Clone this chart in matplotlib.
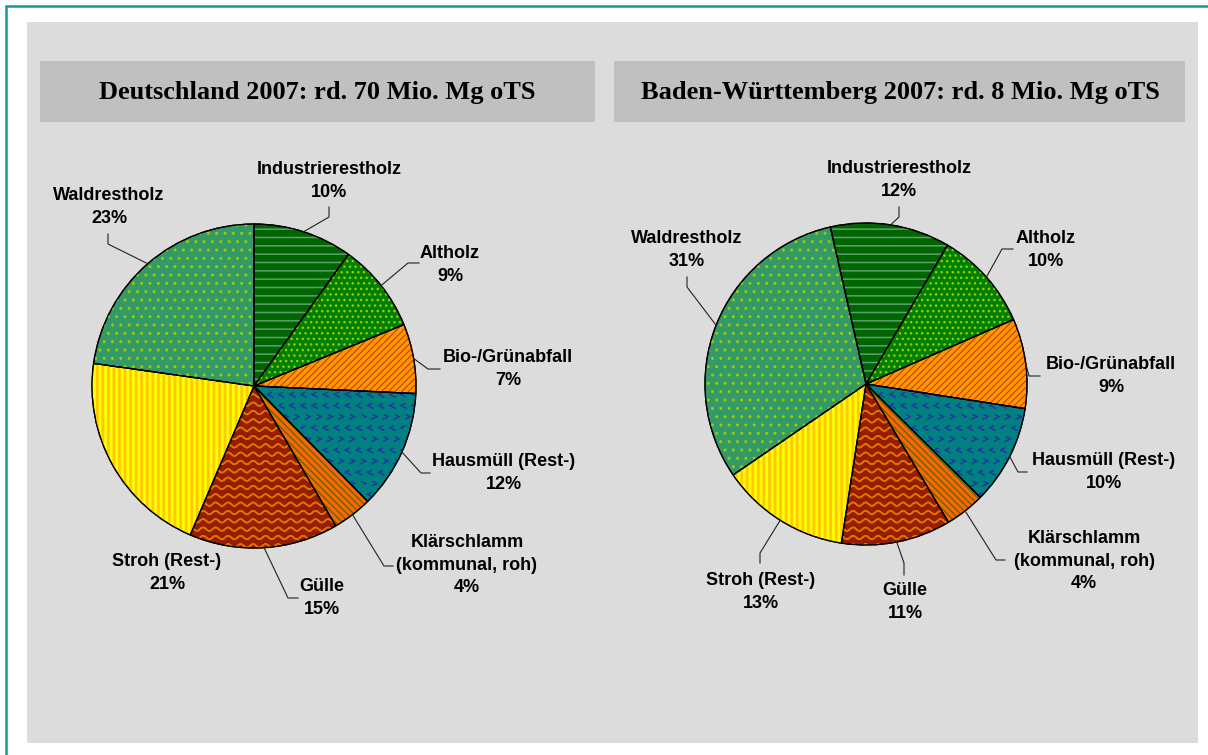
import warnings
warnings.filterwarnings("ignore")
import numpy as np
import matplotlib
matplotlib.use("Agg")
import matplotlib.pyplot as plt
from matplotlib import hatch as mhatch
from matplotlib.path import Path
from matplotlib.patches import Rectangle, Wedge

# ---------------- data ----------------
categories = ["Industrierestholz", "Altholz", "Bio-/Grünabfall", "Hausmüll (Rest-)",
              "Klärschlamm\n(kommunal, roh)", "Gülle", "Stroh (Rest-)", "Waldrestholz"]
de_shares = [10, 9, 7, 12, 4, 15, 21, 23]
bw_shares = [12, 10, 9, 10, 4, 11, 13, 31]
titles = ["Deutschland 2007: rd. 70 Mio. Mg oTS",
          "Baden-Württemberg 2007: rd. 8 Mio. Mg oTS"]

# ---------------- styles ----------------
face_colors = ["#006600", "#008000", "#FF9900", "#008080",
               "#FF6600", "#961E00", "#FFFF00", "#339966"]
hatch_colors = ["#5E9E70", "#99CC00", "#C83C00", "#1F3C99",
                "#5A6A00", "#E07000", "#FFC800", "#99CC00"]
hatches = ["--", "...", "/////", "<", "\\\\\\\\\\", "~~", "|||", ".."]
hatch_lws = [1.1, 1.0, 0.8, 0.8, 1.0, 1.1, 2.0, 1.0]


# ---------------- custom hatch patterns ----------------
class WaveHatch(mhatch.HatchPatternBase):
    pts = 81

    def __init__(self, hatch, density):
        self.num_lines = int(hatch.count('~') * density)
        self.num_vertices = self.num_lines * self.pts * 2

    def set_vertices_and_codes(self, vertices, codes):
        x = np.linspace(0, 1, self.pts)
        n = self.num_lines
        for i in range(n):
            y0 = (i + 0.5) / n
            y = y0 + 0.018 * np.sin(2 * np.pi * 8 * x)
            xs = np.concatenate([x, x[::-1]])
            ys = np.concatenate([y, y[::-1]])
            s = slice(i * self.pts * 2, (i + 1) * self.pts * 2)
            vertices[s, 0] = xs
            vertices[s, 1] = ys
            codes[s] = Path.LINETO
            codes[i * self.pts * 2] = Path.MOVETO


class ChevronHatch(mhatch.HatchPatternBase):
    def __init__(self, hatch, density):
        self.n = int(hatch.count('<') * density * 3 // 2)
        self.num_vertices = self.n * self.n * 5

    def set_vertices_and_codes(self, vertices, codes):
        n = self.n
        d = 1.0 / n
        s = 0.17 * d
        k = 0
        for r in range(n):
            cy = (r + 0.5) * d
            for c in range(n):
                cx = (c + (0.25 if r % 2 == 0 else 0.75)) * d
                sgn = 1 if r % 2 == 0 else -1
                pts = [(cx + sgn * s, cy + s), (cx - sgn * s, cy), (cx + sgn * s, cy - s),
                       (cx - sgn * s, cy), (cx + sgn * s, cy + s)]
                vertices[k:k + 5] = pts
                codes[k] = Path.MOVETO
                codes[k + 1:k + 5] = Path.LINETO
                k += 5


mhatch._hatch_types.append(WaveHatch)
mhatch._hatch_types.append(ChevronHatch)

# ---------------- layout ----------------
W, H = 1208, 755
pie_layout = [
    dict(center=(254, 386), radius=162, start=-90),
    dict(center=(866, 384), radius=161, start=-102.8),
]
# label centre (x, y), leader elbow (x, y), leader end (x, y) in pixels
label_layout = [
    [((329, 181), (329, 217), (329, 207)),
     ((450, 265), (408, 263), (419, 263)),
     ((508, 369), (428, 369), (440, 369)),
     ((504, 473), (421, 473), (430, 473)),
     ((467, 565), (384, 566), (393, 566)),
     ((322, 598), (288, 598), (298, 598)),
     ((167, 573), None, None),
     ((109, 207), (108, 244), (108, 234))],
    [((899, 180), (899, 217), (899, 207)),
     ((1046, 250), (1002, 249), (1013, 249)),
     ((1111, 376), (1029, 376), (1040, 376)),
     ((1104, 472), (1018, 472), (1027, 472)),
     ((1084, 561), (996, 560), (1005, 560)),
     ((905, 602), (904, 563), (904, 575)),
     ((761, 592), (760, 553), (760, 563)),
     ((687, 250), (687, 287), (687, 277))],
]
title_boxes = [(40, 61, 555, 61), (614, 61, 571, 61)]
title_pos = [(317, 92), (900, 92)]

fig = plt.figure(figsize=(W / 100, H / 100), dpi=100)
fig.patch.set_facecolor("white")
ax = fig.add_axes([0, 0, 1, 1])

# frame + panel
ax.add_patch(Rectangle((6, 6), W + 20, H + 20, facecolor="white",
                       edgecolor="#0E9A96", linewidth=1.8, zorder=0))
ax.add_patch(Rectangle((27, 22), 1171, 721, facecolor="#DCDCDC",
                       edgecolor="none", zorder=0.5))
for (bx, by, bw, bh), (tx, ty), title in zip(title_boxes, title_pos, titles):
    ax.add_patch(Rectangle((bx, by), bw, bh, facecolor="#C0C0C0",
                           edgecolor="none", zorder=0.6))
    ax.text(tx, ty, title, ha="center", va="center", fontsize=19,
            fontweight="bold", family="Liberation Serif", zorder=5)

for shares, pl, labs in zip([de_shares, bw_shares], pie_layout, label_layout):
    wedges, _ = ax.pie(shares, center=pl["center"], radius=pl["radius"],
                       startangle=pl["start"], counterclock=True, frame=True,
                       colors=face_colors,
                       wedgeprops=dict(edgecolor="black", linewidth=0.9))
    for i, w in enumerate(wedges):
        w.set_zorder(1)
        with plt.rc_context({"hatch.linewidth": hatch_lws[i]}):
            hw = Wedge(w.center, w.r, w.theta1, w.theta2, facecolor="none",
                       edgecolor=hatch_colors[i], hatch=hatches[i], linewidth=0,
                       zorder=2)
        if hasattr(hw, "set_hatch_linewidth"):
            hw.set_hatch_linewidth(hatch_lws[i])
        ax.add_patch(hw)
        ax.add_patch(Wedge(w.center, w.r, w.theta1, w.theta2, facecolor="none",
                           edgecolor="black", linewidth=0.9, zorder=3))
        # label
        (lx, ly), elbow, end = labs[i]
        ax.text(lx, ly, f"{categories[i]}\n{shares[i]}%", ha="center", va="center",
                fontsize=13, fontweight="bold", family="Liberation Sans",
                linespacing=1.45, zorder=5)
        if elbow is not None:
            tm = np.deg2rad((w.theta1 + w.theta2) / 2)
            cx, cy = w.center
            px, py = cx + w.r * np.cos(tm), cy + w.r * np.sin(tm)
            ax.plot([px, elbow[0], end[0]], [py, elbow[1], end[1]],
                    color="#222222", linewidth=0.8, zorder=4)

ax.set_xlim(0, W)
ax.set_ylim(H, 0)
ax.set_aspect("auto")
ax.axis("off")

fig.savefig("out.png", dpi=100, facecolor="white")
